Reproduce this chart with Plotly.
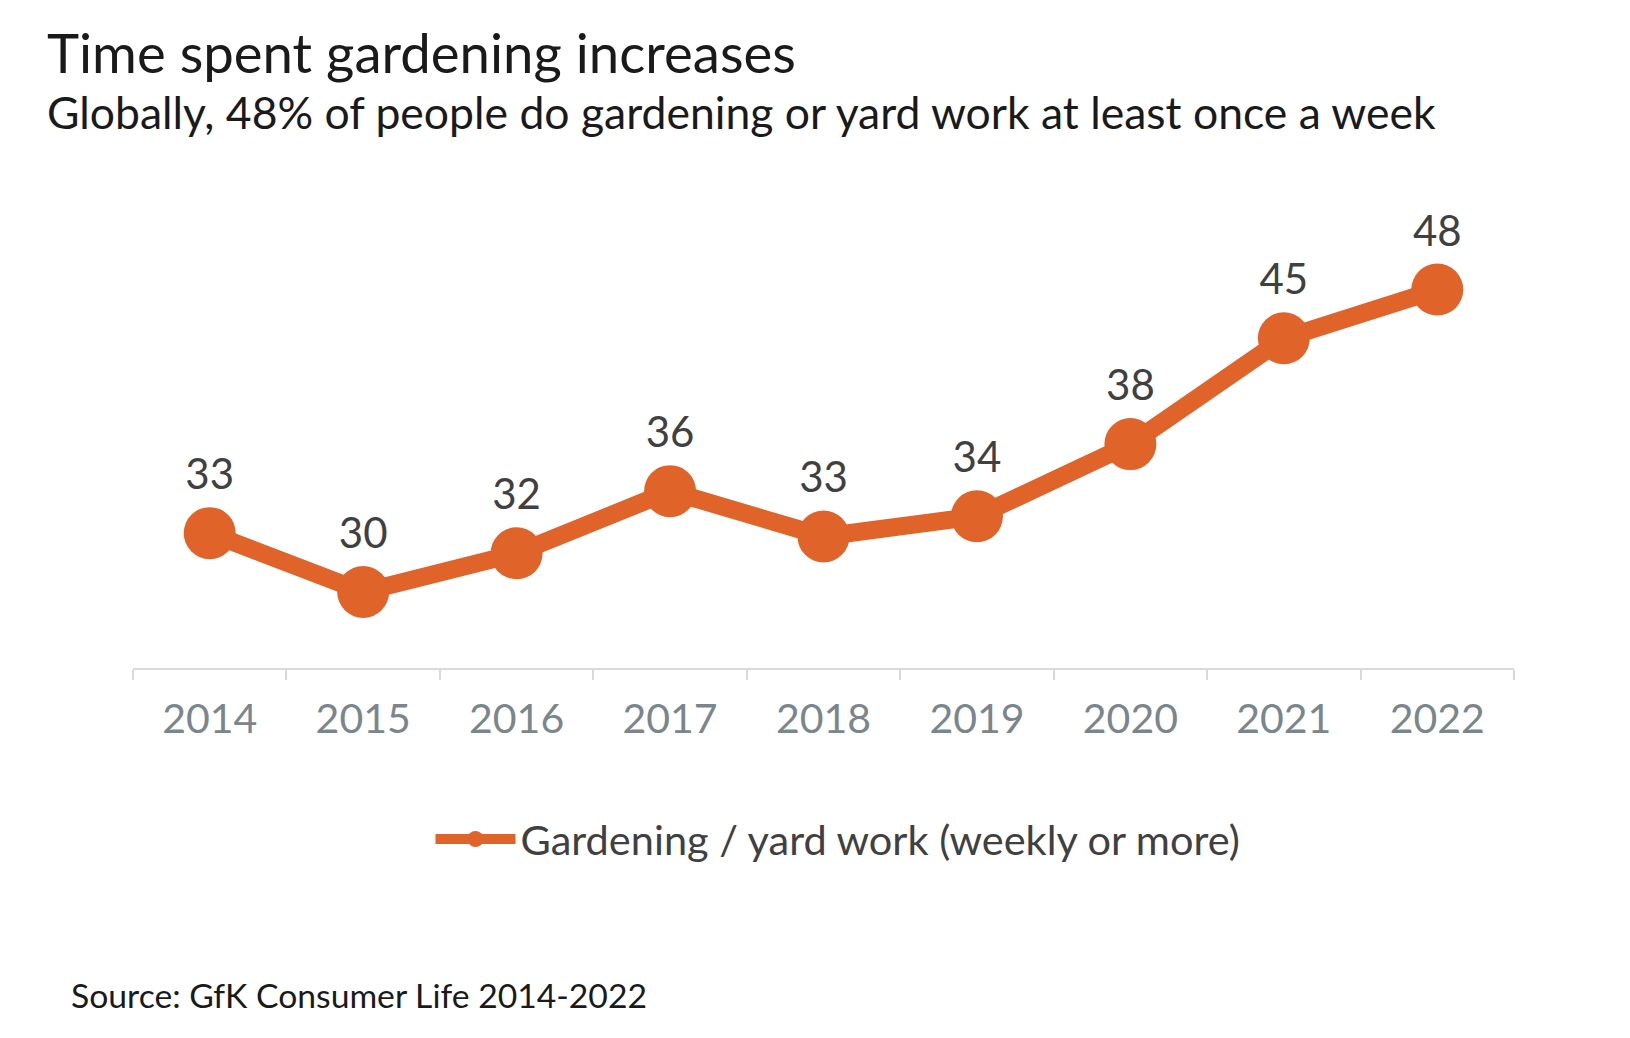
import plotly.graph_objects as go

# data
years = ["2014", "2015", "2016", "2017", "2018", "2019", "2020", "2021", "2022"]
share_weekly = [33.5, 30, 32.3, 36, 33.3, 34.5, 38.8, 45.1, 48]
value_labels = ["33", "30", "32", "36", "33", "34", "38", "45", "48"]

ORANGE = "#E0632A"
FONT = "Lato, 'Open Sans', sans-serif"

W, H = 1630, 1038
PAGE = 8  # default body margin of the html page
# plot area in page pixels
X0, X1, Y0, Y1 = 133, 1514, 256, 668
M_L, M_R = X0 - PAGE, W - (X1 - PAGE)
M_T, M_B = Y0 - PAGE, H - (Y1 - PAGE)
PW, PH = X1 - X0, Y1 - Y0


def px_x(x):
    # page pixel x -> paper coordinate
    return (x - X0) / PW


def px_y(y):
    # page pixel y (from top) -> paper coordinate
    return (Y1 - y) / PH


fig = go.Figure()

fig.add_trace(go.Scatter(
    x=years,
    y=share_weekly,
    mode="lines+markers+text",
    name="Gardening / yard work (weekly or more)",
    line=dict(color=ORANGE, width=18),
    marker=dict(color=ORANGE, size=52),
    text=value_labels,
    textposition="top center",
    textfont=dict(family=FONT, size=42, color="#404040"),
    cliponaxis=False,
    hoverinfo="x+y",
))

fig.update_layout(
    width=W,
    height=H,
    margin=dict(l=M_L, r=M_R, t=M_T, b=M_B),
    paper_bgcolor="white",
    plot_bgcolor="white",
    font=dict(family=FONT),
    showlegend=True,
    legend=dict(
        orientation="h",
        x=px_x(838), xanchor="center",
        y=px_y(839), yanchor="middle",
        font=dict(family=FONT, size=41.5, color="#404040"),
        itemwidth=80,
    ),
    xaxis=dict(
        type="category",
        range=[-0.5, 8.5],
        showgrid=False,
        showline=True,
        linecolor="#d9d9d9",
        linewidth=2,
        ticks="outside",
        tickson="boundaries",
        ticklen=10,
        tickwidth=2,
        tickcolor="#d9d9d9",
        tickfont=dict(family=FONT, size=41, color="#7b868c"),
        ticklabelstandoff=14,
        fixedrange=True,
    ),
    yaxis=dict(
        range=[25.47, 50],
        visible=False,
        showgrid=False,
        zeroline=False,
        fixedrange=True,
    ),
    annotations=[
        dict(
            text="Time spent gardening increases",
            xref="paper", yref="paper",
            x=px_x(45), y=px_y(52),
            xanchor="left", yanchor="middle",
            showarrow=False,
            font=dict(family=FONT, size=54.5, color="#1a1a1a"),
        ),
        dict(
            text="Globally, 48% of people do gardening or yard work at least once a week",
            xref="paper", yref="paper",
            x=px_x(45), y=px_y(111),
            xanchor="left", yanchor="middle",
            showarrow=False,
            font=dict(family=FONT, size=44.5, color="#1a1a1a"),
        ),
        dict(
            text="Source: GfK Consumer Life 2014-2022",
            xref="paper", yref="paper",
            x=px_x(69), y=px_y(995),
            xanchor="left", yanchor="middle",
            showarrow=False,
            font=dict(family=FONT, size=33.7, color="#1a1a1a"),
        ),
    ],
)

fig.write_html("out.html")
